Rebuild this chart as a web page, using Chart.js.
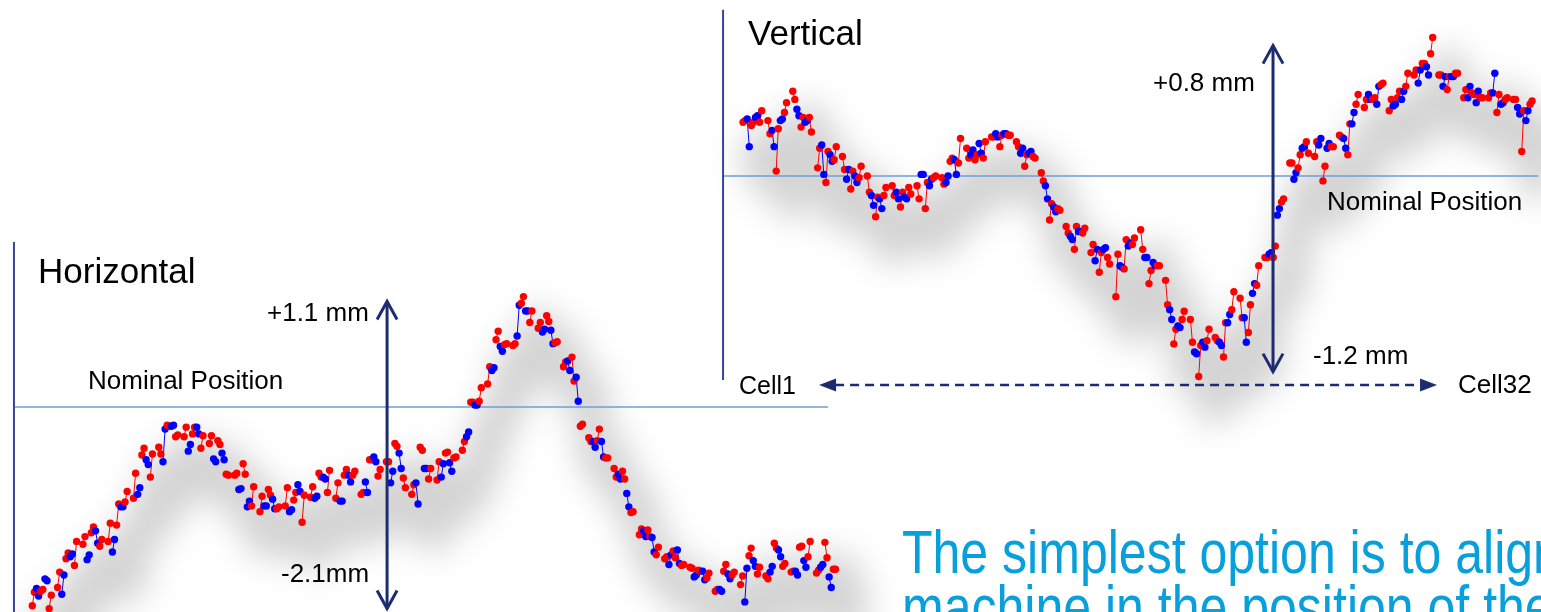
<!DOCTYPE html>
<html>
<head>
<meta charset="utf-8">
<title>Cell position – horizontal and vertical</title>
<script src="https://cdn.jsdelivr.net/npm/chart.js@4/dist/chart.umd.min.js"></script>
<style>
  html, body { margin: 0; padding: 0; width: 1541px; height: 612px; overflow: hidden; background: #fff; }
  #stage { position: relative; width: 1541px; height: 612px; overflow: hidden; }
  #plot { position: absolute; left: 0; top: 0; }
  .lbl { position: absolute; font-family: "Liberation Sans", Arial, sans-serif; color: #000; white-space: nowrap; z-index: 2; }
  .title { font-size: 35px; line-height: 35px; }
  .note { font-size: 26px; line-height: 26px; }
  .cell { font-size: 25px; line-height: 25px; }
  .message { position: absolute; left: 902px; top: 525px; z-index: 2; white-space: nowrap;
             font-family: "Liberation Sans", Arial, sans-serif; font-size: 61px; line-height: 55px;
             color: #07a0dd; transform: scaleX(0.82); transform-origin: 0 0; }
</style>
</head>
<body>
<div id="stage">
  <canvas id="plot" width="1541" height="612"></canvas>

  <div class="lbl title" style="left:38px; top:253px;">Horizontal</div>
  <div class="lbl note" style="left:267px; top:299px;">+1.1 mm</div>
  <div class="lbl note" style="left:88px; top:367px;">Nominal Position</div>
  <div class="lbl note" style="left:281px; top:560px;">-2.1mm</div>

  <div class="lbl title" style="left:748px; top:15px;">Vertical</div>
  <div class="lbl note" style="left:1153px; top:69px;">+0.8 mm</div>
  <div class="lbl note" style="left:1327px; top:188px;">Nominal Position</div>
  <div class="lbl note" style="left:1313px; top:342px;">-1.2 mm</div>
  <div class="lbl cell" style="left:739px; top:373px;">Cell1</div>
  <div class="lbl note" style="left:1458px; top:371px;">Cell32</div>

  <div class="message">The simplest option is to align the<br>machine in the position of the cells</div>
</div>

<script>
// 32 cells, 10 readings per cell; readings come in pairs (red, blue, red, blue, red)
const CELLS = 32;
const READINGS = 10;
const SLOT = 12;               // x slots per cell (10 readings + a small gap)
const pairColours = ['#ff0000', '#0000ff'];

// Horizontal deviation from nominal, mm (one row per cell)
const hValues = [
  -2.07, -1.93, -1.89, -1.97, -1.92, -1.90, -1.79, -1.81, -2.10, -1.96,
  -1.88, -1.72, -1.95, -1.75, -1.58, -1.52, -1.56, -1.53, -1.65, -1.40,
  -1.43, -1.35, -1.59, -1.54, -1.31, -1.25, -1.29, -1.42, -1.45, -1.38,
  -1.40, -1.21, -1.51, -1.38, -1.23, -1.01, -1.04, -1.04, -0.99, -0.88,
  -0.95, -0.69, -0.91, -0.84, -0.50, -0.43, -0.55, -0.60, -0.73, -0.49,
  -0.42, -0.49, -0.57, -0.23, -0.19, -0.20, -0.20, -0.19, -0.31, -0.29,
  -0.31, -0.21, -0.46, -0.39, -0.28, -0.21, -0.21, -0.28, -0.43, -0.30,
  -0.38, -0.30, -0.54, -0.57, -0.35, -0.39, -0.48, -0.55, -0.70, -0.71,
  -0.71, -0.69, -0.86, -0.85, -0.59, -0.70, -1.04, -0.98, -1.03, -0.83,
  -1.09, -0.93, -1.03, -1.03, -0.86, -0.92, -0.96, -1.06, -1.06, -1.04,
  -1.03, -0.84, -1.09, -1.07, -0.97, -0.89, -0.81, -0.88, -1.20, -0.92,
  -0.94, -0.83, -0.95, -0.93, -0.69, -0.73, -0.73, -0.75, -0.89, -0.66,
  -0.95, -0.79, -0.98, -0.98, -0.71, -0.65, -0.71, -0.78, -0.71, -0.67,
  -0.91, -0.89, -0.78, -0.89, -0.55, -0.55, -0.52, -0.57, -0.72, -0.65,
  -0.57, -0.57, -0.79, -0.67, -0.38, -0.41, -0.48, -0.64, -0.74, -0.84,
  -0.91, -0.81, -0.79, -1.01, -0.42, -0.45, -0.64, -0.64, -0.75, -0.64,
  -0.76, -0.57, -0.73, -0.59, -0.48, -0.47, -0.58, -0.67, -0.53, -0.52,
  -0.45, -0.36, -0.31, -0.26,  0.05,  0.05,  0.02,  0.02,  0.06,  0.20,
   0.24,  0.42,  0.38,  0.41,  0.70,  0.79,  0.63,  0.58,  0.65,  0.66,
   0.64,  0.66,  0.74,  1.06,  1.08,  1.15,  1.00,  1.00,  0.88,  1.00,
   0.82,  0.88,  0.78,  0.81,  0.95,  0.89,  0.80,  0.66,  0.67,  0.68,
   0.42,  0.47,  0.48,  0.38,  0.52,  0.27,  0.31,  0.06, -0.20, -0.18,
  -0.32, -0.36, -0.36, -0.42, -0.35, -0.23, -0.36, -0.52, -0.53, -0.53,
  -0.64, -0.73, -0.70, -0.75, -0.67, -0.75, -0.90, -1.04, -1.10, -1.09,
  -1.33, -1.27, -1.29, -1.35, -1.28, -1.35, -1.36, -1.51, -1.54, -1.46,
  -1.58, -1.56, -1.64, -1.54, -1.50, -1.57, -1.49, -1.63, -1.65, -1.64,
  -1.67, -1.68, -1.77, -1.75, -1.70, -1.71, -1.71, -1.80, -1.78, -1.73,
  -1.92, -1.90, -1.90, -1.92, -1.71, -1.64, -1.74, -1.79, -1.75, -1.72,
  -1.85, -1.76, -2.03, -1.68, -1.55, -1.47, -1.60, -1.66, -1.74, -1.67,
  -1.76, -1.79, -1.72, -1.66, -1.42, -1.47, -1.49, -1.56, -1.66, -1.63,
  -1.72, -1.71, -1.71, -1.75, -1.46, -1.45, -1.60, -1.67, -1.56, -1.40,
  -1.73, -1.70, -1.67, -1.64, -1.41, -1.57, -1.77, -1.88, -1.69, -1.69
];

// Vertical deviation from nominal, mm (one row per cell)
const vValues = [
   0.33,  0.34,  0.35,  0.18,  0.31,  0.33,  0.36,  0.37,  0.33,  0.40,
   0.34,  0.26,  0.28,  0.18,  0.03,  0.29,  0.34,  0.35,  0.39,  0.45,
   0.52,  0.47,  0.41,  0.37,  0.30,  0.36,  0.33,  0.34,  0.36,  0.27,
   0.05,  0.17,  0.19,  0.01, -0.04,  0.15,  0.13,  0.09,  0.10,  0.18,
   0.12,  0.04, -0.02,  0.04, -0.08,  0.03,  0.00, -0.04, -0.01,  0.06,
   0.00, -0.10, -0.12, -0.18, -0.25, -0.13, -0.14, -0.20, -0.12, -0.07,
  -0.06, -0.12, -0.10, -0.14, -0.19, -0.10, -0.13, -0.14, -0.07, -0.11,
  -0.06, -0.14,  0.01,  0.01, -0.20, -0.04, -0.06, -0.02, -0.01,  0.00,
  -0.01, -0.05, -0.04,  0.00,  0.09,  0.11,  0.10,  0.01,  0.08,  0.23,
   0.17,  0.11,  0.13,  0.16,  0.10,  0.13,  0.20,  0.14,  0.11,  0.21,
   0.24,  0.24,  0.26,  0.24,  0.18,  0.25,  0.26,  0.26,  0.25,  0.25,
   0.21,  0.18,  0.14,  0.17,  0.06,  0.13,  0.14,  0.15,  0.12,  0.11,
   0.02, -0.03, -0.06, -0.14, -0.27, -0.17, -0.19, -0.22, -0.20, -0.21,
  -0.31, -0.35, -0.37, -0.39, -0.45, -0.31, -0.34, -0.34, -0.35, -0.32,
  -0.47, -0.42, -0.52, -0.45, -0.59, -0.47, -0.45, -0.44, -0.50, -0.54,
  -0.74, -0.48, -0.55, -0.56, -0.57, -0.39, -0.43, -0.41, -0.42, -0.38,
  -0.33, -0.45, -0.50, -0.50, -0.66, -0.58, -0.53, -0.55, -0.55, -0.55,
  -0.64, -0.79, -0.82, -0.88, -1.03, -0.94, -0.92, -0.93, -0.88, -0.83,
  -0.88, -1.02, -1.08, -1.09, -1.23, -1.04, -1.02, -1.05, -1.01, -0.94,
  -0.99, -1.01, -1.02, -1.04, -1.11, -0.90, -0.90, -0.85, -0.82, -0.71,
  -0.75, -0.87, -0.87, -1.02, -0.96, -0.79, -0.72, -0.66, -0.67, -0.55,
  -0.50, -0.50, -0.48, -0.47, -0.50, -0.43, -0.24, -0.20, -0.16, -0.14,
   0.08,  0.08, -0.02,  0.02,  0.05,  0.13,  0.17,  0.18,  0.21,  0.14,
   0.12,  0.21,  0.19,  0.23, -0.03,  0.06,  0.17,  0.20,  0.18,  0.18,
   0.25,  0.24,  0.23,  0.17,  0.13,  0.32,  0.32,  0.39,  0.44,  0.50,
   0.42,  0.47,  0.50,  0.47,  0.47,  0.48,  0.44,  0.55,  0.56,  0.57,
   0.40,  0.47,  0.43,  0.44,  0.48,  0.52,  0.47,  0.52,  0.55,  0.63,
   0.62,  0.65,  0.57,  0.65,  0.69,  0.69,  0.67,  0.62,  0.75,  0.85,
   0.62,  0.62,  0.55,  0.61,  0.53,  0.61,  0.61,  0.61,  0.63,  0.63,
   0.48,  0.53,  0.48,  0.55,  0.51,  0.50,  0.45,  0.52,  0.48,  0.48,
   0.48,  0.51,  0.51,  0.63,  0.39,  0.50,  0.44,  0.45,  0.47,  0.48,
   0.47,  0.47,  0.42,  0.38,  0.15,  0.40,  0.34,  0.40,  0.44,  0.46
];

// Tolerance spans written on the double arrows, mm
const hSpan = [1.1, -2.1];
const vSpan = [0.8, -1.2];
const NOMINAL = 0;

// Frame of each panel, in that panel's own axis units
const panels = [
  { x: 'xH', y: 'yH', axisAt: -8.7, axisTop: 1.72, axisBottom: -2.2, nominalEnd: 377.5, arrowAt: 168.3, span: hSpan },
  { x: 'xV', y: 'yV', axisAt: -9.66, axisTop: 1.02, axisBottom: -1.252, nominalEnd: 383.9, arrowAt: 255.9, span: vSpan,
    cellArrow: { from: 36.7, to: 335.1, at: -1.282 } }
];

function cellPoints(values) {
  return values.map((v, i) => ({ x: Math.floor(i / READINGS) * SLOT + (i % READINGS), y: v }));
}
function readingColour(i) {
  return pairColours[Math.floor((i % READINGS) / 2) % 2];
}
function series(label, values, xAxisID, yAxisID) {
  return {
    label, data: cellPoints(values), xAxisID, yAxisID,
    borderWidth: 1,
    borderColor: '#ff0000',
    tension: 0,
    clip: false,
    pointRadius: 3.7,
    pointHoverRadius: 3.7,
    pointBorderWidth: 0,
    pointBackgroundColor: c => readingColour(c.dataIndex),
    // only the two readings of a pair are joined
    segment: {
      borderColor: s => (s.p0DataIndex % 2 === 0 ? readingColour(s.p0DataIndex) : 'rgba(0,0,0,0)')
    }
  };
}

function doubleArrow(ctx, x, yTop, yBottom) {
  ctx.beginPath(); ctx.moveTo(x, yTop); ctx.lineTo(x, yBottom); ctx.stroke();
  ctx.beginPath(); ctx.moveTo(x - 10, yTop + 18); ctx.lineTo(x, yTop); ctx.lineTo(x + 10, yTop + 18); ctx.stroke();
  ctx.beginPath(); ctx.moveTo(x - 10, yBottom - 18); ctx.lineTo(x, yBottom); ctx.lineTo(x + 10, yBottom - 18); ctx.stroke();
}
function dashedArrow(ctx, x0, x1, y) {
  ctx.save();
  ctx.lineWidth = 2.5;
  ctx.setLineDash([9, 6]);
  ctx.beginPath(); ctx.moveTo(x0 + 16, y); ctx.lineTo(x1 - 16, y); ctx.stroke();
  ctx.setLineDash([]);
  ctx.beginPath(); ctx.moveTo(x0, y); ctx.lineTo(x0 + 17, y - 6.5); ctx.lineTo(x0 + 17, y + 6.5); ctx.closePath(); ctx.fill();
  ctx.beginPath(); ctx.moveTo(x1, y); ctx.lineTo(x1 - 17, y - 6.5); ctx.lineTo(x1 - 17, y + 6.5); ctx.closePath(); ctx.fill();
  ctx.restore();
}

const panelFrame = {
  id: 'panelFrame',
  beforeDatasetsDraw(chart) {
    const ctx = chart.ctx;
    // soft, wide drop shadow behind each trace
    chart.data.datasets.forEach((ds, k) => {
      const pts = chart.getDatasetMeta(k).data;
      ctx.save();
      ctx.filter = 'blur(16px)';
      ctx.strokeStyle = 'rgba(0,0,0,0.17)';
      ctx.lineWidth = 38;
      ctx.lineJoin = 'round';
      ctx.lineCap = 'round';
      ctx.beginPath();
      pts.forEach((p, i) => {
        const x = p.x + 16, y = p.y + 30;
        if (i === 0) ctx.moveTo(x, y); else ctx.lineTo(x, y);
      });
      ctx.stroke();
      ctx.restore();
    });
    // panel axis and nominal-position line
    panels.forEach(p => {
      const xs = chart.scales[p.x], ys = chart.scales[p.y];
      const ax = xs.getPixelForValue(p.axisAt);
      ctx.save();
      ctx.strokeStyle = '#34469c';
      ctx.lineWidth = 2;
      ctx.beginPath(); ctx.moveTo(ax, ys.getPixelForValue(p.axisTop)); ctx.lineTo(ax, ys.getPixelForValue(p.axisBottom)); ctx.stroke();
      const ny = ys.getPixelForValue(NOMINAL);
      ctx.strokeStyle = '#6d9fd6';
      ctx.lineWidth = 1.6;
      ctx.beginPath(); ctx.moveTo(ax + 1, ny); ctx.lineTo(xs.getPixelForValue(p.nominalEnd), ny); ctx.stroke();
      ctx.restore();
    });
  },
  afterDatasetsDraw(chart) {
    const ctx = chart.ctx;
    panels.forEach(p => {
      const xs = chart.scales[p.x], ys = chart.scales[p.y];
      ctx.save();
      ctx.strokeStyle = '#1d2c6e';
      ctx.fillStyle = '#1d2c6e';
      ctx.lineWidth = 3;
      ctx.lineJoin = 'miter';
      doubleArrow(ctx, xs.getPixelForValue(p.arrowAt), ys.getPixelForValue(p.span[0]), ys.getPixelForValue(p.span[1]));
      if (p.cellArrow) {
        dashedArrow(ctx, xs.getPixelForValue(p.cellArrow.from), xs.getPixelForValue(p.cellArrow.to), ys.getPixelForValue(p.cellArrow.at));
      }
      ctx.restore();
    });
  }
};

new Chart(document.getElementById('plot'), {
  type: 'line',
  data: {
    datasets: [
      series('Horizontal', hValues, 'xH', 'yH'),
      series('Vertical', vValues, 'xV', 'yV')
    ]
  },
  options: {
    responsive: false,
    devicePixelRatio: 1,
    animation: false,
    events: [],
    layout: { padding: 0, autoPadding: false },
    plugins: { legend: { display: false }, tooltip: { enabled: false }, title: { display: false } },
    scales: {
      xH: { type: 'linear', display: false, min: -15.32, max: 715.7 },
      yH: { type: 'linear', display: false, min: -2.1354, max: 4.2396 },
      xV: { type: 'linear', display: false, min: -358.8, max: 385.3 },
      yV: { type: 'linear', display: false, min: -2.6748, max: 1.0798 }
    }
  },
  plugins: [panelFrame]
});
</script>
</body>
</html>
